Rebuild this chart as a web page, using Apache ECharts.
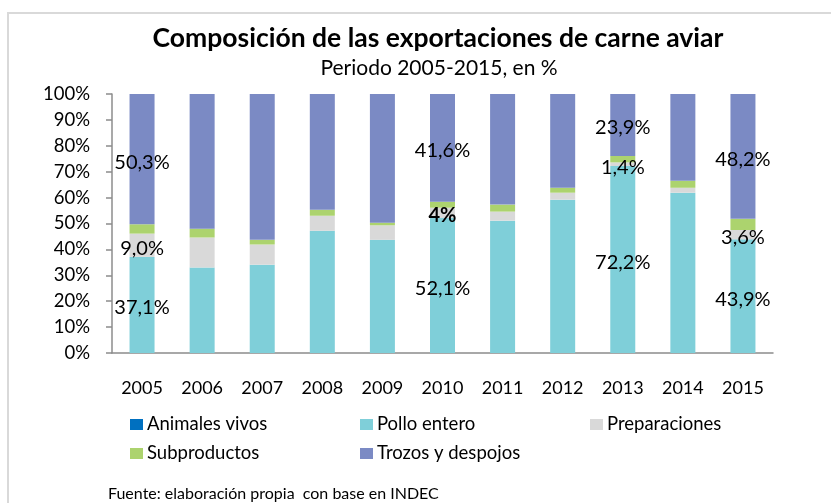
<!DOCTYPE html>
<html>
<head>
<meta charset="UTF-8">
<title>Composición de las exportaciones de carne aviar</title>
<script src="https://cdn.jsdelivr.net/npm/echarts@6/dist/echarts.min.js"></script>
<style>
  html, body { margin: 0; padding: 0; background: #fff; }
  #chart { width: 831px; height: 503px; }
</style>
</head>
<body>
<div id="chart"></div>
<script>
// datos (% del total exportado)
var years = ['2005', '2006', '2007', '2008', '2009', '2010', '2011', '2012', '2013', '2014', '2015'];
var animalesVivos = [0, 0, 0, 0, 0, 0, 0, 0, 0, 0, 0];
var polloEntero = [37.1, 33.0, 34.1, 47.2, 43.7, 52.1, 51.1, 59.2, 72.2, 61.9, 43.9];
var preparaciones = [9.0, 11.6, 7.8, 5.8, 5.6, 4.0, 3.5, 2.7, 1.4, 1.9, 3.6];
var subproductos = [3.6, 3.4, 1.8, 2.3, 1.0, 2.3, 2.7, 1.9, 2.5, 2.7, 4.3];
var trozos = [50.3, 52.0, 56.3, 44.7, 49.7, 41.6, 42.7, 36.2, 23.9, 33.5, 48.2];
var yTicks = [0, 10, 20, 30, 40, 50, 60, 70, 80, 90, 100];

// años con etiqueta; en 2010 preparaciones va en negrita y sin decimal
var labeled = [0, 5, 8, 10];
var boldIdx = 5;

var font = 'Lato';
var chart = echarts.init(document.getElementById('chart'));

function fmt(v, bold) {
  if (bold) return '{b|' + Math.round(v) + '%}';
  return v.toFixed(1).replace('.', ',') + '%';
}

function withLabels(arr, show, boldAt) {
  return arr.map(function (v, i) {
    var item = { value: v };
    if (show && labeled.indexOf(i) >= 0) {
      item.label = { show: true, formatter: fmt(v, i === boldAt) };
    }
    return item;
  });
}

var lbl = {
  show: false,
  position: 'inside',
  offset: [0, 3],
  color: '#000',
  fontFamily: font,
  fontSize: 20,
  rich: { b: { fontFamily: font, fontSize: 20, fontWeight: 'bold', color: '#000' } }
};

function bar(name, data, color, show, boldAt) {
  return {
    name: name,
    type: 'bar',
    stack: 'total',
    barWidth: 25,
    itemStyle: { color: color },
    label: lbl,
    emphasis: { disabled: true },
    data: withLabels(data, show, boldAt)
  };
}

var legendText = { fontFamily: font, fontSize: 18.5, color: '#000', padding: [0, 0, 0, -1] };
function leg(name, left, top) {
  return {
    data: [name], left: left, top: top, icon: 'rect',
    itemWidth: 13, itemHeight: 11, itemGap: 0, textStyle: legendText,
    selectedMode: false, padding: 0
  };
}

var option = {
  backgroundColor: '#fff',
  animation: false,
  title: [{
    text: 'Composición de las exportaciones de carne aviar',
    left: 433, textAlign: 'center', top: 20,
    textStyle: { fontFamily: font, fontSize: 26.5, fontWeight: 'bold', color: '#000' }
  }, {
    text: 'Periodo 2005-2015, en %',
    left: 434, textAlign: 'center', top: 53,
    textStyle: { fontFamily: font, fontSize: 21, fontWeight: 'normal', color: '#000' }
  }, {
    text: 'Fuente: elaboración propia  con base en INDEC',
    left: 103, top: 481,
    textStyle: { fontFamily: font, fontSize: 16, fontWeight: 'normal', color: '#000' }
  }],
  legend: [
    leg('Animales vivos', 130, 415),
    leg('Pollo entero', 360, 415),
    leg('Preparaciones', 590, 415),
    leg('Subproductos', 130, 444),
    leg('Trozos y despojos', 360, 444)
  ],
  graphic: [{
    type: 'rect',
    shape: { x: 8, y: 13, width: 840, height: 520 },
    style: { fill: 'none', stroke: '#d9d9d9', lineWidth: 2 },
    silent: true
  }],
  grid: { left: 112, right: 58, top: 94, bottom: 150 },
  xAxis: {
    type: 'category',
    data: years,
    axisLine: { lineStyle: { color: '#8c8c8c', width: 1.5 } },
    axisTick: { length: 6, lineStyle: { color: '#8c8c8c', width: 1.5 } },
    axisLabel: { fontFamily: font, fontSize: 18, color: '#000', margin: 26 }
  },
  yAxis: {
    type: 'value',
    min: yTicks[0],
    max: yTicks[yTicks.length - 1],
    interval: yTicks[1] - yTicks[0],
    splitLine: { show: false },
    axisLine: { show: true, lineStyle: { color: '#8c8c8c', width: 1.5 } },
    axisTick: { show: true, length: 6, lineStyle: { color: '#8c8c8c', width: 1.5 } },
    axisLabel: { fontFamily: font, fontSize: 18.5, color: '#000', margin: 22, formatter: '{value}%' }
  },
  series: [
    bar('Animales vivos', animalesVivos, '#0070c0', false, -1),
    bar('Pollo entero', polloEntero, '#7fcfd9', true, -1),
    bar('Preparaciones', preparaciones, '#d9d9d9', true, boldIdx),
    bar('Subproductos', subproductos, '#acd36e', false, -1),
    bar('Trozos y despojos', trozos, '#7b8ac4', true, -1)
  ]
};

chart.setOption(option);
</script>
</body>
</html>
